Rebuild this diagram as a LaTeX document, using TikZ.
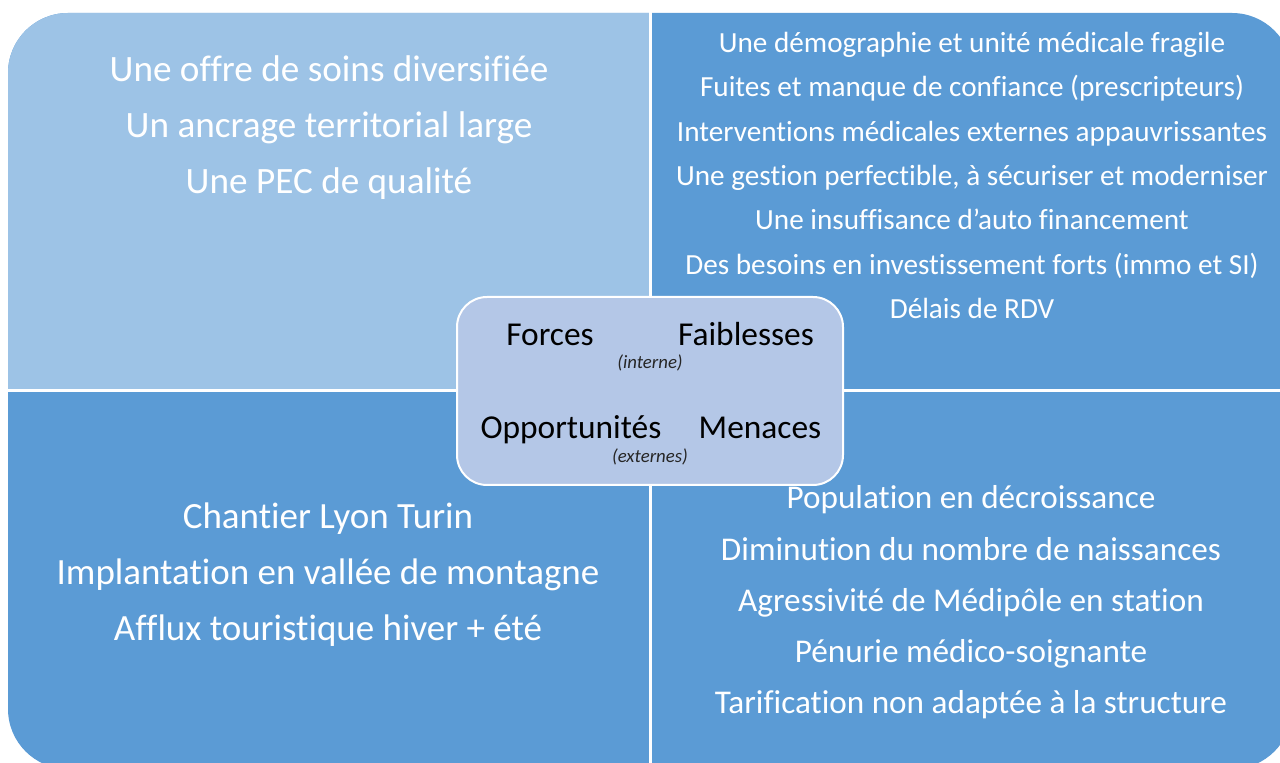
\documentclass[tikz,border=0pt]{standalone}
\usepackage{fontspec}
\setmainfont{Carlito}[Ligatures=NoCommon]
\definecolor{qlight}{HTML}{9DC3E6}
\definecolor{qdark}{HTML}{5B9BD5}
\definecolor{cbox}{HTML}{B4C7E7}
\begin{document}
\begin{tikzpicture}[x=0.5pt,y=-0.5pt,
  txt/.style={text=white, inner sep=0pt, anchor=base},
  tlfont/.style={font=\fontsize{18.6pt}{21pt}\selectfont},
  trfont/.style={font=\fontsize{14.6pt}{17pt}\selectfont},
  blfont/.style={font=\fontsize{18.5pt}{21pt}\selectfont},
  brfont/.style={font=\fontsize{16.6pt}{19pt}\selectfont},
  keyw/.style={text=black, inner sep=0pt, anchor=base, font=\fontsize{16.7pt}{19pt}\selectfont},
  note/.style={text=black!85, inner sep=0pt, anchor=base, font=\fontsize{9.4pt}{11pt}\itshape},
  divider/.style={white, line width=1.5pt}]
\useasboundingbox (0,0) rectangle (1280,763);
\clip (0,0) rectangle (1280,763);
\begin{scope}
  \clip[rounded corners=30pt] (8,13) rectangle (1292,769);
  \fill[qdark] (0,0) rectangle (1300,780);
  \fill[qlight] (8,13) rectangle (650,391);
\end{scope}
\coordinate (vtop) at (650,0);
\coordinate (vbot) at (650,780);
\coordinate (hl) at (0,391);
\coordinate (hr) at (1300,391);
\draw[divider] (vtop) -- (vbot);
\draw[divider] (hl) -- (hr);

% top left: Forces
\node[txt,tlfont] (tl1) at (329,82) {Une offre de soins diversifiée};
\node[txt,tlfont] (tl2) at (329,138) {Un ancrage territorial large};
\node[txt,tlfont] (tl3) at (329,194) {Une PEC de qualité};

% top right: Faiblesses
\node[txt,trfont] (tr1) at (972,53) {Une démographie et unité médicale fragile};
\node[txt,trfont] (tr2) at (972,97) {Fuites et manque de confiance (prescripteurs)};
\node[txt,trfont] (tr3) at (972,142) {Interventions médicales externes appauvrissantes};
\node[txt,trfont] (tr4) at (972,186) {Une gestion perfectible, à sécuriser et moderniser};
\node[txt,trfont] (tr5) at (972,230) {Une insuffisance d’auto financement};
\node[txt,trfont] (tr6) at (972,275) {Des besoins en investissement forts (immo et SI)};
\node[txt,trfont] (tr7) at (972,319) {Délais de RDV};

% bottom left: Opportunités
\node[txt,blfont] (bl1) at (328,529) {Chantier Lyon Turin};
\node[txt,blfont] (bl2) at (328,585) {Implantation en vallée de montagne};
\node[txt,blfont] (bl3) at (328,641) {Afflux touristique hiver + été};

% bottom right: Menaces
\node[txt,brfont] (br1) at (971,509) {Population en décroissance};
\node[txt,brfont] (br2) at (971,561) {Diminution du nombre de naissances};
\node[txt,brfont] (br3) at (971,612) {Agressivité de Médipôle en station};
\node[txt,brfont] (br4) at (971,663) {Pénurie médico-soignante};
\node[txt,brfont] (br5) at (971,714) {Tarification non adaptée à la structure};

% center box
\node[draw=white, line width=1pt, fill=cbox, rounded corners=15pt,
      minimum width=193pt, minimum height=94pt, inner sep=0pt] (centre) at (650,391) {};
\node[keyw] (forces) at (550,346) {Forces};
\node[keyw] (faib) at (746,346) {Faiblesses};
\node[note] (interne) at (650,369) {(interne)};
\node[keyw] (opp) at (571,439) {Opportunités};
\node[keyw] (men) at (760,439) {Menaces};
\node[note] (externes) at (650,463) {(externes)};
\end{tikzpicture}
\end{document}
